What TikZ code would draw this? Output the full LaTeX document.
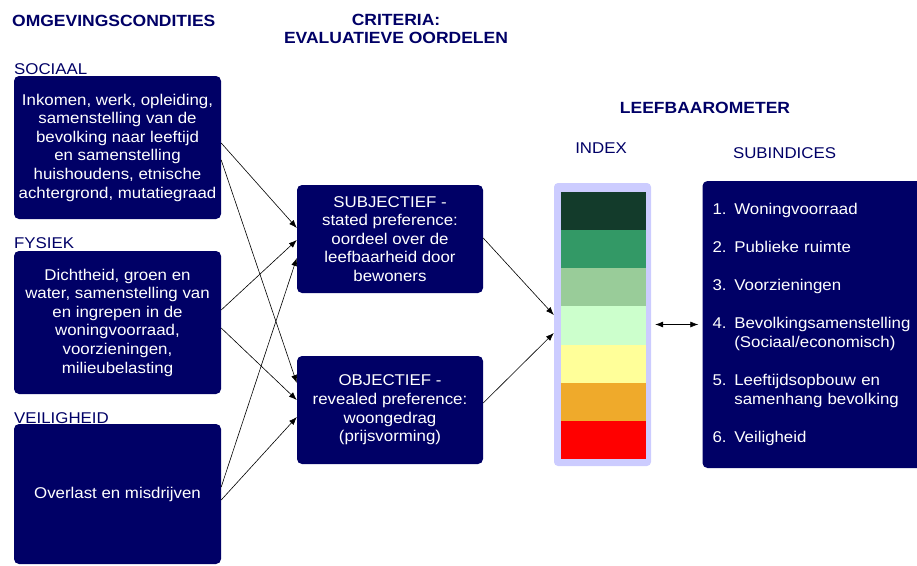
\documentclass[tikz,border=0pt]{standalone}
\usepackage{fontspec}
\setmainfont{Liberation Sans}[FakeStretch=1.08]
\usepackage{xcolor}
\usepackage{tikz}
\usetikzlibrary{positioning, calc, arrows.meta}

\definecolor{navy}{RGB}{0,0,102}
\definecolor{lavender}{RGB}{204,204,255}
\definecolor{lvlA}{RGB}{19,59,43}
\definecolor{lvlB}{RGB}{51,153,102}
\definecolor{lvlC}{RGB}{153,204,153}
\definecolor{lvlD}{RGB}{204,255,204}
\definecolor{lvlE}{RGB}{255,255,153}
\definecolor{lvlF}{RGB}{239,170,43}
\definecolor{lvlG}{RGB}{255,0,0}

\begin{document}
\begin{tikzpicture}[x=1pt, y=-1pt,
          every node/.style={font=\fontsize{15.6}{18.6}\selectfont},
          box/.style={rectangle, rounded corners=5pt, fill=navy, text=white, align=center, inner sep=0pt},
          head/.style={text=navy, font=\fontsize{16.2}{18.2}\selectfont\bfseries, inner sep=0pt, align=center},
          cat/.style={text=navy, inner sep=0pt, anchor=base west},
          link/.style={-{Latex[length=8pt,width=6pt]}, line width=0.6pt}]
          \useasboundingbox (0,0) rectangle (917,565);

          \node[head, anchor=base west] (omg) at (12,26) {OMGEVINGSCONDITIES};
          \node[head] (crit) at (396,29) {CRITERIA:\\EVALUATIEVE OORDELEN};
          \node[head] (leef) at (705,108) {LEEFBAAROMETER};
          \node[text=navy, inner sep=0pt] (idxlabel) at (601,148.5) {INDEX};
          \node[text=navy, inner sep=0pt] (sublabel) at (784.5,153) {SUBINDICES};

          \node[cat] (soclabel) at (14,74) {SOCIAAL};
          \node[cat] (fyslabel) at (14,248) {FYSIEK};
          \node[cat] (veilabel) at (14,423) {VEILIGHEID};

          \node[box, minimum width=207pt, minimum height=143pt] (soc) at (117.5,147.5)
            {Inkomen, werk, opleiding,\\samenstelling van de\\bevolking naar leeftijd\\en samenstelling\\huishoudens, etnische\\achtergrond, mutatiegraad};
          \node[box, minimum width=207pt, minimum height=143pt] (fys) at (117.5,322.5)
            {Dichtheid, groen en\\water, samenstelling van\\en ingrepen in de\\woningvoorraad,\\voorzieningen,\\milieubelasting};
          \node[box, minimum width=207pt, minimum height=140pt] (vei) at (117.5,494)
            {Overlast en misdrijven};

          \node[box, minimum width=186pt, minimum height=108pt] (subj) at (390,239)
            {SUBJECTIEF -\\stated preference:\\oordeel over de\\leefbaarheid door\\bewoners};
          \node[box, minimum width=186pt, minimum height=108pt] (obj) at (390,410)
            {OBJECTIEF -\\revealed preference:\\woongedrag\\(prijsvorming)};

          \node[rectangle, rounded corners=4pt, fill=lavender, minimum width=97pt, minimum height=283pt, inner sep=0pt] (idx) at (602.5,324.5) {};
          \foreach \c [count=\i from 0] in {lvlA,lvlB,lvlC,lvlD,lvlE,lvlF,lvlG}
            \fill[\c] (561,{192+38.14*\i}) rectangle (646,{192+38.14*(\i+1)});

          \node[box, align=left, text width=203pt, inner xsep=10pt, minimum height=287pt] (sub) at (814,324.5)
            {1. Woningvoorraad\\[19.4pt]
             2. Publieke ruimte\\[19.4pt]
             3. Voorzieningen\\[19.4pt]
             4. Bevolkingsamenstelling\\\hphantom{4. }(Sociaal/economisch)\\[19.4pt]
             5. Leeftijdsopbouw en\\\hphantom{5. }samenhang bevolking\\[19.4pt]
             6. Veiligheid};

          \draw[link] ([yshift=4.5pt]soc.east) -- ([yshift=11pt]subj.west);
          \draw[link] ([yshift=-12.5pt]soc.east) -- ([yshift=27pt]obj.west);
          \draw[link] ([yshift=12.5pt]fys.east) -- ([yshift=-1pt]subj.west);
          \draw[link] ([yshift=-5.5pt]fys.east) -- ([yshift=10pt]obj.west);
          \draw[link] ([yshift=7pt]vei.east) -- ([yshift=-19pt]subj.west);
          \draw[link] ([yshift=-6pt]vei.east) -- ([yshift=-7pt]obj.west);

          \draw[link] ([yshift=1pt]subj.east) -- ([yshift=9.5pt]idx.west);
          \draw[link] ([yshift=7pt]obj.east) -- ([yshift=-8.5pt]idx.west);
          \draw[link, {Latex[length=8pt,width=6pt]}-{Latex[length=8pt,width=6pt]}, shorten >=4pt, shorten <=4pt] (idx.east) -- (sub.west);
        \end{tikzpicture}
\end{document}
